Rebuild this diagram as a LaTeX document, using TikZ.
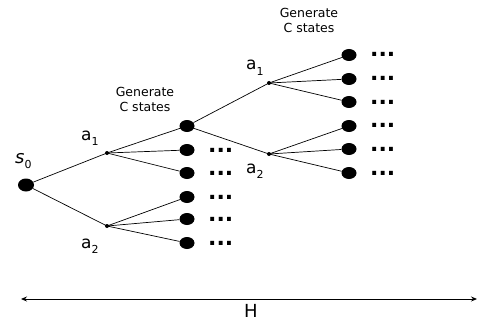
\documentclass[tikz,border=0pt]{standalone}
\usepackage{fontspec}
\setmainfont{DejaVu Sans}
\newfontfamily\obl{DejaVu Sans Oblique}
\usetikzlibrary{arrows.meta,shapes.geometric}
\begin{document}
\begin{tikzpicture}[x=1pt,y=-1pt,
  st/.style={ellipse,fill=black,inner sep=0pt,minimum width=15pt,minimum height=12pt},
  act/.style={circle,fill=black,inner sep=0pt,minimum size=4pt},
  edge/.style={line width=0.7pt},
  more/.style={anchor=base west,inner sep=0pt,font=\fontsize{22}{22}\selectfont\bfseries},
  lbl/.style={inner sep=0pt,font=\fontsize{17}{17}\selectfont},
  gen/.style={inner sep=0pt,align=center,font=\fontsize{12.5}{15}\selectfont}]
\useasboundingbox (0,0) rectangle (477,321);
\newcommand{\sub}[1]{\raisebox{-0.3em}{\fontsize{11}{11}\selectfont #1}}
% nodes
\node[st,minimum width=16pt,minimum height=13pt] (s0) at (26,185) {};
\node[act] (a1) at (107,153) {};
\node[act] (a2) at (107,226) {};
\foreach \y/\n in {126/u1,150/u2,173/u3,197/u4,219/u5,243/u6} \node[st] (\n) at (187,\y) {};
\node[act] (b1) at (269,83) {};
\node[act] (b2) at (269,154) {};
\foreach \y/\n in {55/v1,79/v2,102/v3,126/v4,149/v5,173/v6} \node[st] (\n) at (349,\y) {};
% dots
\foreach \n in {u2,u3,u4,u5,u6} \node[more] (d\n) at ([xshift=21pt,yshift=-2pt]\n.center) {...};
\foreach \n in {v1,v2,v3,v4,v5,v6} \node[more] (d\n) at ([xshift=21pt,yshift=-2pt]\n.center) {...};
% edges
\draw[edge] (s0) -- (a1.center); \draw[edge] (s0) -- (a2.center);
\foreach \n in {u1,u2,u3} \draw[edge] (a1.center) -- (\n);
\foreach \n in {u4,u5,u6} \draw[edge] (a2.center) -- (\n);
\draw[edge] (u1) -- (b1.center); \draw[edge] (u1) -- (b2.center);
\foreach \n in {v1,v2,v3} \draw[edge] (b1.center) -- (\n);
\foreach \n in {v4,v5,v6} \draw[edge] (b2.center) -- (\n);
% labels
\node[lbl,font=\fontsize{18}{18}\selectfont\obl,anchor=base west] (ls0) at (15,163) {s\sub{\normalfont 0}};
\node[lbl,anchor=base west] (la1) at (81,140) {a\sub{1}};
\node[lbl,anchor=base west] (la2) at (81,248) {a\sub{2}};
\node[lbl,anchor=base west] (lb1) at (246,70) {a\sub{1}};
\node[lbl,anchor=base west] (lb2) at (246,173) {a\sub{2}};
\node[gen] (g1) at (145,99) {Generate\\C states};
\node[gen] (g2) at (309,20) {Generate\\C states};
% horizon
\coordinate (hl) at (21,299);
\coordinate (hr) at (477,299);
\draw[line width=0.8pt,{Stealth[length=6pt,width=5pt,inset=2pt]}-{Stealth[length=6pt,width=5pt,inset=2pt]}] (hl) -- (hr);
\node[inner sep=0pt,font=\fontsize{18}{18}\selectfont] (H) at (251,311) {H};
\end{tikzpicture}
\end{document}
